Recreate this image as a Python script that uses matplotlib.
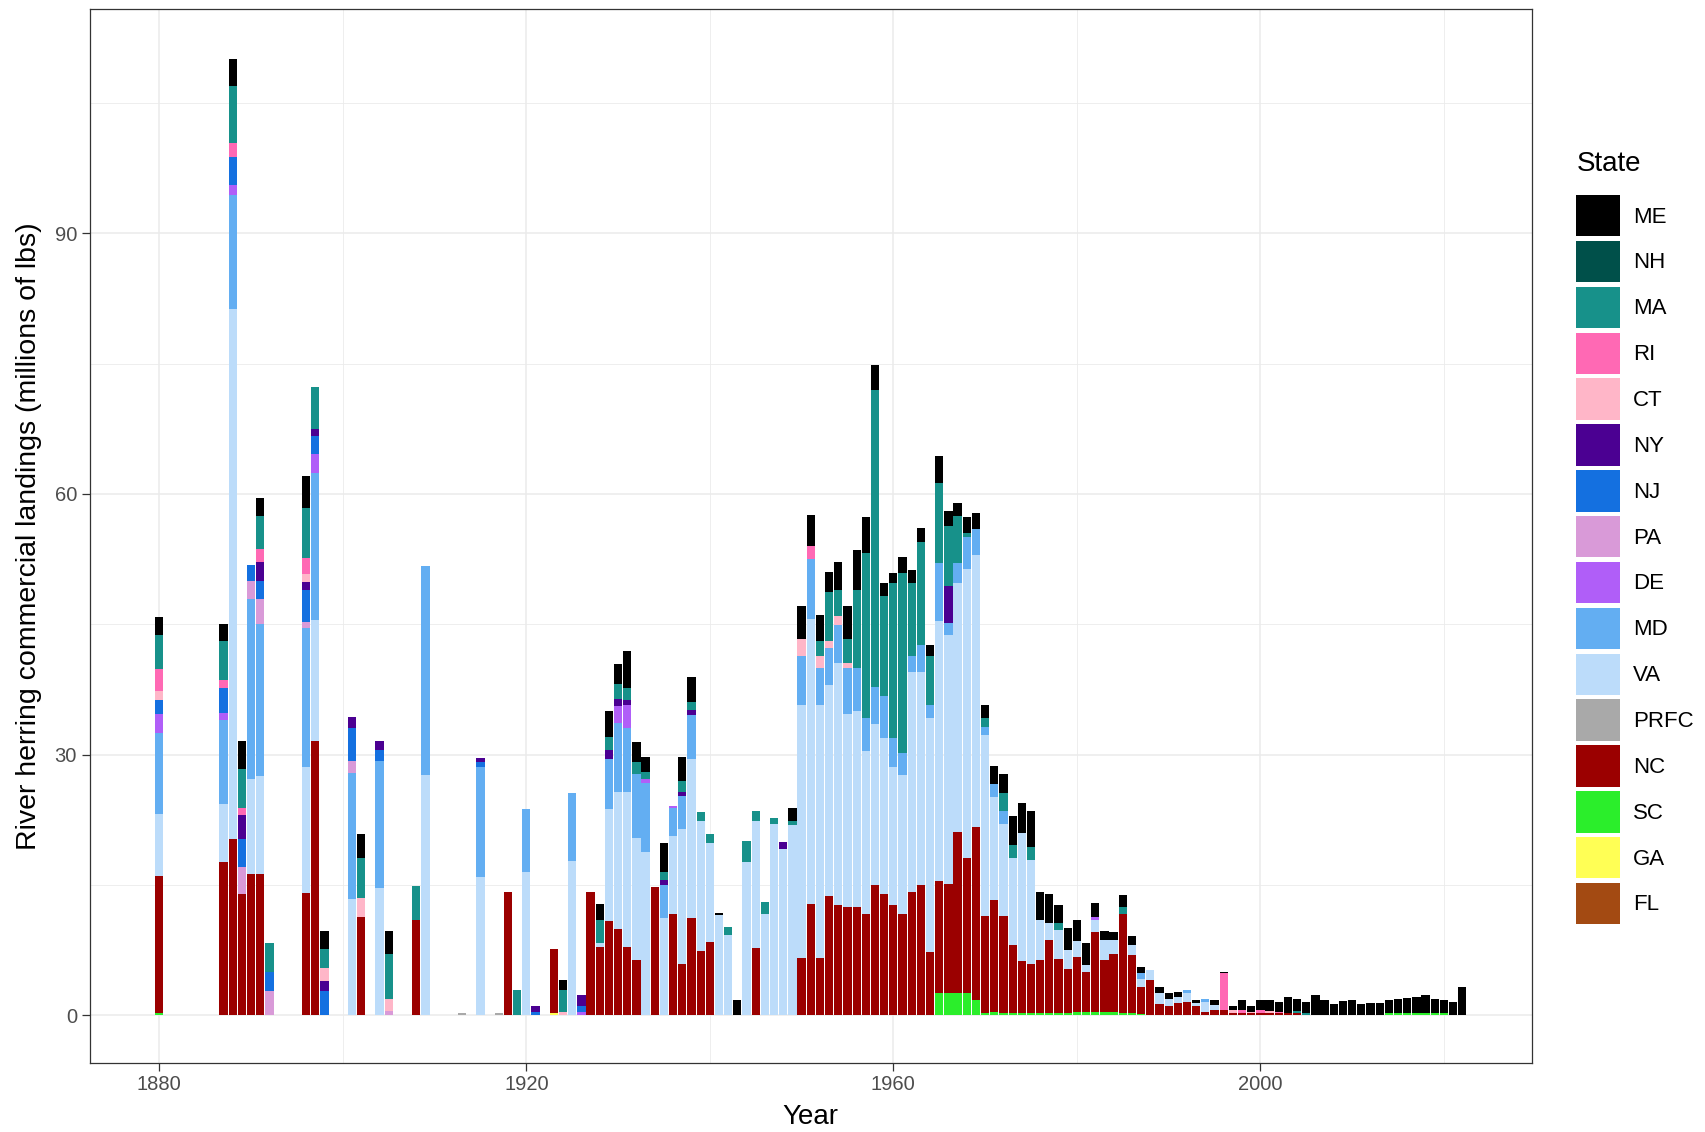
import matplotlib.pyplot as plt
import matplotlib.patches as mpatches
import pandas as pd
import numpy as np

plt.rcParams['font.family'] = ['Liberation Sans', 'DejaVu Sans']

# landings by state, millions of lbs
ME = {1880: 2.0, 1887: 1.9, 1888: 3.1, 1889: 3.2, 1891: 2.0, 1896: 3.6, 1898: 2.1, 1902: 2.7,
      1905: 2.7, 1924: 1.1, 1928: 1.9, 1929: 3.0, 1930: 2.3, 1931: 4.3, 1932: 2.3, 1933: 1.7,
      1935: 3.3, 1937: 2.7, 1938: 2.8, 1941: 0.3, 1943: 1.7, 1949: 1.5, 1950: 3.8, 1951: 3.6,
      1952: 3.0, 1953: 2.3, 1954: 3.3, 1955: 3.8, 1956: 4.6, 1957: 4.1, 1958: 2.8, 1959: 1.5,
      1960: 1.2, 1961: 1.8, 1962: 1.5, 1963: 1.6, 1964: 1.3, 1965: 3.1, 1966: 1.7, 1967: 1.5,
      1968: 1.8, 1969: 1.8, 1970: 1.5, 1971: 2.1, 1972: 2.1, 1973: 3.3, 1974: 3.4, 1975: 4.1,
      1976: 3.2, 1977: 3.4, 1978: 2.1, 1979: 2.5, 1980: 2.5, 1981: 2.5, 1982: 1.6, 1983: 1.0,
      1984: 0.9, 1985: 1.3, 1986: 1.0, 1987: 0.8, 1989: 0.7, 1990: 0.7, 1991: 0.6, 1993: 0.4,
      1995: 0.5, 1996: 0.2, 1997: 0.4, 1998: 1.1, 1999: 0.6, 2000: 1.2, 2001: 1.2, 2002: 1.1,
      2003: 1.9, 2004: 1.4, 2005: 1.3, 2006: 2.3, 2007: 1.7, 2008: 1.3, 2009: 1.65, 2010: 1.8,
      2011: 1.3, 2012: 1.35, 2013: 1.4, 2014: 1.4, 2015: 1.6, 2016: 1.7, 2017: 1.8, 2018: 2.0,
      2019: 1.6, 2020: 1.5, 2021: 1.5, 2022: 3.2}
NH = {}
MA = {1880: 4.0, 1887: 4.5, 1888: 6.6, 1889: 4.4, 1891: 3.8, 1892: 3.3, 1896: 5.8, 1897: 4.8,
      1898: 2.2, 1902: 4.6, 1905: 5.1, 1908: 4.0, 1919: 2.9, 1924: 2.5, 1928: 2.6, 1929: 1.5,
      1930: 1.7, 1931: 1.3, 1932: 1.4, 1933: 0.8, 1935: 1.0, 1937: 1.3, 1938: 1.0, 1939: 1.0,
      1940: 1.1, 1942: 1.0, 1944: 2.5, 1945: 1.1, 1946: 1.3, 1947: 0.7, 1949: 0.5, 1952: 1.8,
      1953: 5.6, 1954: 3.0, 1955: 2.8, 1956: 8.9, 1957: 19.0, 1958: 34.2, 1959: 11.5, 1960: 17.8,
      1961: 20.7, 1962: 8.4, 1963: 11.9, 1964: 5.6, 1965: 9.3, 1966: 6.9, 1967: 5.5, 1968: 0.5,
      1970: 1.0, 1972: 2.1, 1973: 1.5, 1975: 1.5, 1978: 0.8, 1985: 0.8, 2004: 0.3, 2005: 0.2}
RI = {1880: 2.5, 1887: 0.9, 1888: 1.6, 1889: 0.9, 1891: 1.5, 1896: 1.8, 1951: 1.5, 1996: 4.2,
      1998: 0.3, 2000: 0.3, 2002: 0.2}
CT = {1880: 1.0, 1896: 1.0, 1898: 1.5, 1902: 2.2, 1905: 1.4, 1924: 0.4, 1950: 2.0, 1952: 1.3,
      1953: 0.8, 1954: 1.0, 1955: 0.5, 1997: 0.3, 1999: 0.2, 2001: 0.2}
NY = {1889: 2.7, 1891: 2.2, 1896: 0.9, 1897: 0.8, 1898: 1.1, 1901: 1.3, 1904: 1.1, 1915: 0.5,
      1921: 0.6, 1926: 1.3, 1929: 1.0, 1930: 0.8, 1931: 0.6, 1935: 0.5, 1937: 0.5, 1938: 0.5,
      1948: 0.8, 1966: 4.3}
NJ = {1880: 1.6, 1887: 2.9, 1888: 3.3, 1889: 3.3, 1890: 1.8, 1891: 2.1, 1892: 2.2, 1896: 3.6,
      1897: 2.1, 1898: 2.8, 1901: 3.7, 1904: 1.2, 1915: 0.5, 1921: 0.4, 1926: 0.6}
PA = {1889: 3.1, 1890: 2.1, 1891: 2.9, 1892: 2.8, 1896: 0.7, 1901: 1.4, 1905: 0.5}
DE = {1880: 2.2, 1887: 0.8, 1888: 1.1, 1897: 2.2, 1926: 0.4, 1930: 2.0, 1931: 2.7, 1933: 0.5,
      1936: 0.2, 1982: 0.3}
MD = {1880: 9.4, 1887: 9.7, 1888: 13.1, 1890: 20.7, 1891: 17.5, 1896: 16.0, 1897: 16.9,
      1901: 14.5, 1904: 14.7, 1909: 24.1, 1915: 12.7, 1920: 7.2, 1925: 7.9, 1929: 5.8, 1930: 7.9,
      1931: 7.3, 1932: 7.3, 1933: 7.9, 1935: 3.8, 1936: 3.3, 1937: 3.8, 1938: 5.1, 1950: 5.6,
      1951: 6.9, 1952: 4.3, 1953: 4.3, 1954: 4.4, 1955: 5.3, 1956: 5.0, 1957: 3.8, 1958: 4.3,
      1959: 4.8, 1960: 3.3, 1961: 2.6, 1962: 1.8, 1963: 3.1, 1964: 1.5, 1965: 6.6, 1966: 1.3,
      1967: 2.3, 1968: 3.6, 1969: 3.0, 1970: 1.0, 1971: 1.5, 1972: 1.5, 1987: 0.6, 1992: 0.4,
      1994: 0.4}
VA = {1880: 7.1, 1887: 6.7, 1888: 61.0, 1890: 10.9, 1891: 11.2, 1896: 14.5, 1897: 14.0,
      1901: 13.4, 1904: 14.6, 1909: 27.6, 1915: 15.9, 1920: 16.5, 1925: 17.7, 1928: 0.4,
      1929: 12.9, 1930: 15.8, 1931: 17.8, 1932: 14.0, 1933: 18.8, 1935: 11.2, 1936: 8.9,
      1937: 15.5, 1938: 18.3, 1939: 15.0, 1940: 11.4, 1941: 11.5, 1942: 9.2, 1944: 17.6,
      1945: 14.7, 1946: 11.7, 1947: 22.0, 1948: 19.1, 1949: 21.9, 1950: 29.1, 1951: 32.8,
      1952: 29.1, 1953: 24.3, 1954: 27.8, 1955: 22.3, 1956: 22.6, 1957: 18.7, 1958: 18.5,
      1959: 18.0, 1960: 15.9, 1961: 15.9, 1962: 25.3, 1963: 24.5, 1964: 26.9, 1965: 30.0,
      1966: 28.7, 1967: 28.6, 1968: 33.3, 1969: 31.4, 1970: 20.8, 1971: 11.9, 1972: 10.6,
      1973: 10.0, 1974: 14.8, 1975: 12.0, 1976: 4.7, 1977: 1.9, 1978: 3.3, 1979: 2.2, 1980: 1.8,
      1981: 0.8, 1982: 1.4, 1983: 2.4, 1984: 1.7, 1986: 1.2, 1987: 1.0, 1988: 1.1, 1989: 1.2,
      1990: 0.9, 1991: 0.7, 1992: 1.0, 1993: 0.4, 1994: 1.1, 1995: 0.6}
PRFC = {1913: 0.3, 1917: 0.2}
NC = {1880: 15.7, 1887: 17.6, 1888: 20.3, 1889: 13.9, 1890: 16.3, 1891: 16.3, 1896: 14.1,
      1897: 31.5, 1902: 11.3, 1908: 10.9, 1918: 14.2, 1923: 7.4, 1927: 14.2, 1928: 7.9,
      1929: 10.8, 1930: 9.9, 1931: 7.9, 1932: 6.4, 1934: 14.8, 1936: 11.7, 1937: 5.9, 1938: 11.2,
      1939: 7.4, 1940: 8.4, 1945: 7.7, 1950: 6.6, 1951: 12.8, 1952: 6.6, 1953: 13.7, 1954: 12.7,
      1955: 12.4, 1956: 12.4, 1957: 11.7, 1958: 15.0, 1959: 13.9, 1960: 12.7, 1961: 11.7,
      1962: 14.2, 1963: 15.0, 1964: 7.3, 1965: 12.9, 1966: 12.6, 1967: 18.6, 1968: 15.6,
      1969: 19.9, 1970: 11.1, 1971: 12.8, 1972: 11.1, 1973: 7.9, 1974: 6.0, 1975: 5.7, 1976: 6.1,
      1977: 8.4, 1978: 6.2, 1979: 5.0, 1980: 6.3, 1981: 4.6, 1982: 9.2, 1983: 5.9, 1984: 6.6,
      1985: 11.4, 1986: 6.7, 1987: 3.1, 1988: 4.1, 1989: 1.3, 1990: 1.0, 1991: 1.4, 1992: 1.5,
      1993: 1.0, 1994: 0.4, 1995: 0.6, 1996: 0.6, 1997: 0.3, 1998: 0.3, 1999: 0.2, 2000: 0.3,
      2001: 0.3, 2002: 0.2, 2003: 0.2, 2004: 0.2}
SC = {1880: 0.3, 1965: 2.5, 1966: 2.5, 1967: 2.5, 1968: 2.5, 1969: 1.7, 1970: 0.3, 1971: 0.4,
      1972: 0.3, 1973: 0.2, 1974: 0.2, 1975: 0.2, 1976: 0.2, 1977: 0.3, 1978: 0.3, 1979: 0.3,
      1980: 0.4, 1981: 0.4, 1982: 0.4, 1983: 0.4, 1984: 0.4, 1985: 0.3, 1986: 0.2, 1987: 0.1,
      2014: 0.3, 2015: 0.3, 2016: 0.3, 2017: 0.3, 2018: 0.3, 2019: 0.3, 2020: 0.2}
GA = {1923: 0.2}
FL = {}

states = ['ME', 'NH', 'MA', 'RI', 'CT', 'NY', 'NJ', 'PA', 'DE', 'MD', 'VA', 'PRFC', 'NC', 'SC', 'GA', 'FL']
colors = ['#000000', '#00504a', '#17918a', '#ff69b4', '#ffb6c8', '#4b0092', '#1470e0', '#d99ad8',
          '#b05ef8', '#63aef2', '#bcdcfa', '#a9a9a9', '#9b0000', '#2bee2b', '#ffff55', '#a34a12']
series = [ME, NH, MA, RI, CT, NY, NJ, PA, DE, MD, VA, PRFC, NC, SC, GA, FL]

years = np.arange(1880, 2023)
df = pd.DataFrame({s: pd.Series(d, dtype=float) for s, d in zip(states, series)}, index=years).fillna(0)

fig = plt.figure(figsize=(17.06, 11.32), dpi=100)
ax = fig.add_axes([0.0525, 0.061, 0.8455, 0.931])

# ggplot stacks first level on top -> draw from the bottom (FL) upwards
bottom = np.zeros(len(years))
for s, c in zip(states[::-1], colors[::-1]):
    vals = df[s].values
    ax.bar(years, vals, bottom=bottom, width=0.9, color=c, linewidth=0, zorder=3)
    bottom += vals

ax.set_xlim(1872.4, 2029.6)
ax.set_ylim(-5.5, 115.8)
ax.set_xticks([1880, 1920, 1960, 2000])
ax.set_xticks([1900, 1940, 1980, 2020], minor=True)
ax.set_yticks([0, 30, 60, 90])
ax.set_yticks([15, 45, 75, 105], minor=True)
ax.grid(which='major', color='#ebebeb', linewidth=1.1, zorder=0)
ax.grid(which='minor', color='#ebebeb', linewidth=0.6, zorder=0)
ax.tick_params(which='major', length=5.5, width=0.9, color='#333333', labelsize=14.5,
               labelcolor='#4d4d4d', pad=3.5)
ax.tick_params(which='minor', length=0)
for sp in ax.spines.values():
    sp.set_color('#333333')
    sp.set_linewidth(0.9)

ax.set_xlabel('Year', fontsize=20, labelpad=7)
ax.set_ylabel('River herring commercial landings (millions of lbs)', fontsize=20.5, labelpad=9)

handles = [mpatches.Patch(facecolor=c, linewidth=0, label=s) for s, c in zip(states, colors)]
leg = fig.legend(handles=handles, loc='upper left', bbox_to_anchor=(0.9175, 0.8375),
                 frameon=False, fontsize=16, handlelength=1.95, handleheight=2.49,
                 labelspacing=0.2, handletextpad=0.6, borderpad=0)
fig.text(0.9245, 0.855, 'State', fontsize=20, ha='left', va='center')

plt.savefig('out.png', dpi=100)
